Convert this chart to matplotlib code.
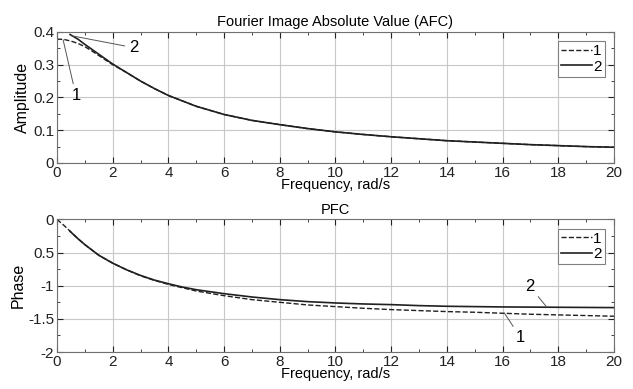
import matplotlib.pyplot as plt
from matplotlib.ticker import MultipleLocator

plt.rcParams['font.family'] = ['Liberation Sans', 'DejaVu Sans']
plt.rcParams['axes.unicode_minus'] = False

# amplitude (AFC)
afc_w1 = [0.0, 0.25, 0.5, 0.75, 1.0, 1.25, 1.5, 1.75, 2.0, 2.5, 3.0, 3.5, 4.0, 5.0, 6.0, 7.0,
          8.0, 9.0, 10.0, 11.0, 12.0, 13.0, 14.0, 15.0, 16.0, 17.0, 18.0, 19.0, 20.0]
afc_1 = [0.378, 0.377, 0.372, 0.365, 0.355, 0.342, 0.328, 0.314, 0.300, 0.276, 0.250, 0.227,
         0.206, 0.173, 0.148, 0.130, 0.117, 0.105, 0.095, 0.087, 0.080, 0.074, 0.068, 0.064,
         0.060, 0.056, 0.053, 0.050, 0.048]
afc_w2 = [0.47, 0.75, 1.0, 1.25, 1.5, 1.75, 2.0, 2.5, 3.0, 3.5, 4.0, 5.0, 6.0, 7.0,
          8.0, 9.0, 10.0, 11.0, 12.0, 13.0, 14.0, 15.0, 16.0, 17.0, 18.0, 19.0, 20.0]
afc_2 = [0.392, 0.378, 0.362, 0.347, 0.332, 0.317, 0.302, 0.276, 0.250, 0.227,
         0.206, 0.173, 0.148, 0.130, 0.117, 0.105, 0.095, 0.087, 0.080, 0.074, 0.068, 0.064,
         0.060, 0.056, 0.053, 0.050, 0.048]

# phase (PFC)
pfc_w1 = [0.0, 0.25, 0.5, 0.75, 1.0, 1.25, 1.5, 1.75, 2.0, 2.5, 3.0, 3.5, 4.0, 4.5, 5.0, 6.0,
          7.0, 8.0, 9.0, 10.0, 11.0, 12.0, 13.0, 14.0, 15.0, 16.0, 17.0, 18.0, 19.0, 20.0]
pfc_1 = [0.0, -0.09, -0.19, -0.29, -0.38, -0.46, -0.54, -0.60, -0.66, -0.76, -0.85, -0.92,
         -0.98, -1.03, -1.08, -1.15, -1.21, -1.25, -1.29, -1.315, -1.34, -1.36, -1.375, -1.39,
         -1.40, -1.415, -1.43, -1.44, -1.45, -1.46]
pfc_w2 = [0.47, 0.75, 1.0, 1.25, 1.5, 1.75, 2.0, 2.5, 3.0, 3.5, 4.0, 4.5, 5.0, 6.0,
          7.0, 8.0, 9.0, 10.0, 11.0, 12.0, 13.0, 14.0, 16.0, 18.0, 20.0]
pfc_2 = [-0.18, -0.29, -0.38, -0.46, -0.54, -0.60, -0.66, -0.76, -0.845, -0.915,
         -0.97, -1.02, -1.06, -1.12, -1.17, -1.21, -1.24, -1.26, -1.275, -1.285, -1.30,
         -1.31, -1.32, -1.325, -1.33]

x_ticks = list(range(0, 21, 2))
amp_ticks = [0, 0.1, 0.2, 0.3, 0.4]
amp_labels = ['0', '0.1', '0.2', '0.3', '0.4']
ph_ticks = [0, -0.5, -1, -1.5, -2]
ph_labels = ['0', '0.5', '-1', '-1.5', '-2']

fig = plt.figure(figsize=(6.33, 3.89), dpi=100)
ax1 = fig.add_axes([0.090, 0.581, 0.880, 0.337])
ax2 = fig.add_axes([0.090, 0.095, 0.880, 0.341])

line_col = '#202020'
fs = 11
arrow = dict(arrowstyle='-', color='#555555', lw=0.7, shrinkA=1, shrinkB=0)


def style(ax):
    ax.set_xlim(0, 20)
    ax.set_xticks(x_ticks)
    ax.xaxis.set_minor_locator(MultipleLocator(1))
    ax.grid(True, which='major', color='#c8c8c8', linewidth=0.8)
    ax.tick_params(which='both', direction='in', top=True, right=True,
                   labelsize=fs, colors='#222222', pad=2)
    ax.tick_params(which='major', length=4)
    ax.tick_params(which='minor', length=2.5)
    for s in ax.spines.values():
        s.set_color('#707070')
        s.set_linewidth(0.8)
    ax.set_xlabel('Frequency, rad/s', fontsize=10.5, labelpad=-1)
    leg = ax.legend(loc='upper right', fontsize=fs, handlelength=2.0,
                    handletextpad=0.1, borderpad=0.2, labelspacing=0.1,
                    borderaxespad=0.6, fancybox=False, framealpha=1)
    leg.get_frame().set_edgecolor('#808080')
    leg.get_frame().set_linewidth(0.8)


ax1.plot(afc_w1, afc_1, '--', color=line_col, lw=1.0, label='1')
ax1.plot(afc_w2, afc_2, '-', color=line_col, lw=1.2, label='2')
ax1.set_ylim(0, 0.4)
ax1.set_yticks(amp_ticks)
ax1.set_yticklabels(amp_labels)
ax1.yaxis.set_minor_locator(MultipleLocator(0.05))
ax1.set_ylabel('Amplitude', fontsize=11.5, labelpad=2)
ax1.set_title('Fourier Image Absolute Value (AFC)', fontsize=10.5, pad=4)
style(ax1)
ax1.annotate('2', xy=(0.54, 0.388), xytext=(2.75, 0.352), fontsize=12,
             ha='center', va='center', arrowprops=arrow)
ax1.annotate('1', xy=(0.22, 0.376), xytext=(0.68, 0.206), fontsize=12,
             ha='center', va='center', arrowprops=arrow)

ax2.plot(pfc_w1, pfc_1, '--', color=line_col, lw=1.0, label='1')
ax2.plot(pfc_w2, pfc_2, '-', color=line_col, lw=1.2, label='2')
ax2.set_ylim(-2, 0)
ax2.set_yticks(ph_ticks)
ax2.set_yticklabels(ph_labels)
ax2.yaxis.set_minor_locator(MultipleLocator(0.25))
ax2.set_ylabel('Phase', fontsize=11.5, labelpad=2)
ax2.set_title('PFC', fontsize=10.5, pad=4)
style(ax2)
ax2.annotate('2', xy=(17.56, -1.31), xytext=(16.98, -1.01), fontsize=12,
             ha='center', va='center', arrowprops=arrow)
ax2.annotate('1', xy=(16.06, -1.41), xytext=(16.65, -1.785), fontsize=12,
             ha='center', va='center', arrowprops=arrow)

fig.savefig('out.png', dpi=100)
